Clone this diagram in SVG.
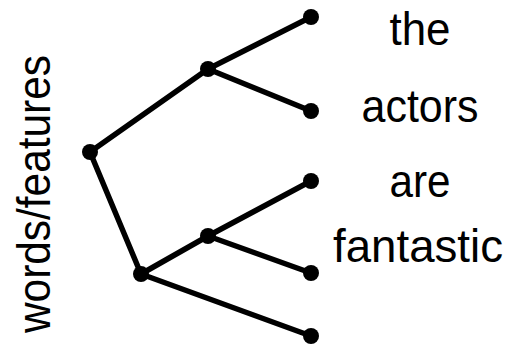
<svg xmlns="http://www.w3.org/2000/svg" width="508" height="346" viewBox="0 0 508 346">
<style>
.e{stroke:#000;stroke-width:5.5;stroke-linecap:round;fill:none}
.n{fill:#000}
.t{font-family:"Liberation Sans",Arial,sans-serif;font-size:46px;fill:#000;text-anchor:middle}
</style>
<rect width="508" height="346" fill="#fff"/>
<g id="connectors">
<line class="e" x1="90" y1="152" x2="208" y2="69"/>
<line class="e" x1="90" y1="152" x2="141" y2="274"/>
<line class="e" x1="208" y1="69" x2="311" y2="17"/>
<line class="e" x1="208" y1="69" x2="311" y2="111"/>
<line class="e" x1="141" y1="274" x2="208" y2="236"/>
<line class="e" x1="208" y1="236" x2="311" y2="181"/>
<line class="e" x1="208" y1="236" x2="311" y2="273"/>
<line class="e" x1="141" y1="274" x2="311" y2="336"/>
</g>
<g id="root"><circle class="n" cx="90" cy="152" r="8"/></g>
<g id="n1"><circle class="n" cx="208" cy="69" r="8"/></g>
<g id="n2"><circle class="n" cx="141" cy="274" r="8"/></g>
<g id="n3"><circle class="n" cx="208" cy="236" r="8"/></g>
<g id="leaf-the"><circle class="n" cx="311" cy="17" r="8"/><text class="t" x="420" y="45" textLength="61" lengthAdjust="spacingAndGlyphs">the</text></g>
<g id="leaf-actors"><circle class="n" cx="311" cy="111" r="8"/><text class="t" x="420" y="122" textLength="117" lengthAdjust="spacingAndGlyphs">actors</text></g>
<g id="leaf-are"><circle class="n" cx="311" cy="181" r="8"/><text class="t" x="420" y="197" textLength="61" lengthAdjust="spacingAndGlyphs">are</text></g>
<g id="leaf-fantastic"><circle class="n" cx="311" cy="273" r="8"/><text class="t" x="418" y="262" textLength="170" lengthAdjust="spacingAndGlyphs">fantastic</text></g>
<g id="leaf-5"><circle class="n" cx="311" cy="336" r="8"/></g>
<g id="axis-label"><text class="t" transform="translate(50,194) rotate(-90)" x="0" y="0" textLength="278" lengthAdjust="spacingAndGlyphs">words/features</text></g>
</svg>
